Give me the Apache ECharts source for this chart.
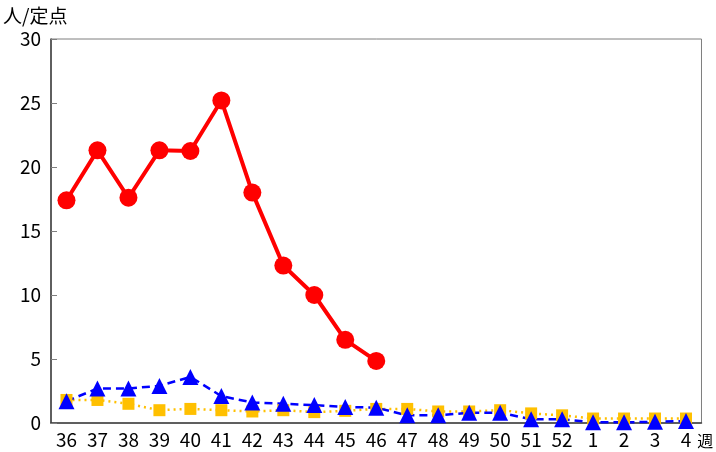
<!DOCTYPE html>
<html>
<head>
<meta charset="utf-8">
<script src="https://cdn.jsdelivr.net/npm/echarts@6/dist/echarts.min.js"></script>
<style>
  html, body { margin: 0; padding: 0; background: #fff; }
  #chart { width: 716px; height: 452px; }
</style>
</head>
<body>
<div id="chart"></div>
<script>
// 週
const weeks = ['36', '37', '38', '39', '40', '41', '42', '43', '44', '45', '46', '47', '48', '49', '50', '51', '52', '1', '2', '3', '4'];
// 赤（丸）
const redValues = [17.4, 21.3, 17.6, 21.3, 21.25, 25.2, 18.0, 12.3, 10.0, 6.5, 4.85];
// 青（三角）
const blueValues = [1.7, 2.7, 2.7, 2.9, 3.6, 2.1, 1.6, 1.5, 1.4, 1.25, 1.2, 0.6, 0.6, 0.8, 0.8, 0.3, 0.3, 0.05, 0.05, 0.1, 0.15];
// 黄（四角）
const yellowValues = [1.8, 1.8, 1.5, 1.0, 1.1, 1.0, 0.9, 1.0, 0.85, 0.95, 1.1, 1.1, 0.9, 0.9, 1.0, 0.75, 0.6, 0.35, 0.35, 0.35, 0.35];

const font = '"Noto Sans CJK JP", sans-serif';
const myEcharts = echarts.init(document.getElementById('chart'));
const option = {
  animation: false,
  grid: {
    left: 49,
    right: 9,
    top: 39,
    bottom: 29,
    show: true,
    borderColor: '#7f7f7f',
    borderWidth: 1,
  },
  xAxis: {
    type: 'category',
    data: weeks,
    boundaryGap: true,
    axisLine: { lineStyle: { color: '#404040', width: 1.5 } },
    axisTick: { inside: true, length: 6, lineStyle: { color: '#7f7f7f' } },
    axisLabel: { color: '#000', fontSize: 19, fontFamily: font, margin: 7, interval: 0 },
    name: '週',
    nameLocation: 'end',
    nameGap: 2,
    nameTextStyle: { color: '#000', fontSize: 16, fontFamily: font, verticalAlign: 'top', padding: [10, 0, 0, -12] },
  },
  yAxis: {
    type: 'value',
    min: 0,
    max: 30,
    interval: 5,
    name: '人/定点',
    nameLocation: 'end',
    nameGap: 14,
    nameTextStyle: { color: '#000', fontSize: 19, fontFamily: font, align: 'left', padding: [0, 0, 0, -48] },
    splitLine: { show: false },
    axisLine: { show: true, lineStyle: { color: '#404040', width: 1.5 } },
    axisTick: { show: true, inside: true, length: 6, lineStyle: { color: '#7f7f7f' } },
    axisLabel: { color: '#000', fontSize: 19, fontFamily: font, margin: 10 },
  },
  series: [
    {
      type: 'line',
      data: yellowValues,
      symbol: 'rect',
      symbolSize: 12,
      itemStyle: { color: '#ffc000' },
      lineStyle: { color: '#ffc000', width: 2.5, type: [2, 4] },
    },
    {
      type: 'line',
      data: blueValues,
      symbol: 'triangle',
      symbolSize: 16,
      itemStyle: { color: '#0000ff' },
      lineStyle: { color: '#0000ff', width: 2.5, type: [8, 5] },
    },
    {
      type: 'line',
      data: redValues,
      symbol: 'circle',
      symbolSize: 18,
      itemStyle: { color: '#ff0000' },
      lineStyle: { color: '#ff0000', width: 4 },
    },
  ],
};
myEcharts.setOption(option);
</script>
</body>
</html>
